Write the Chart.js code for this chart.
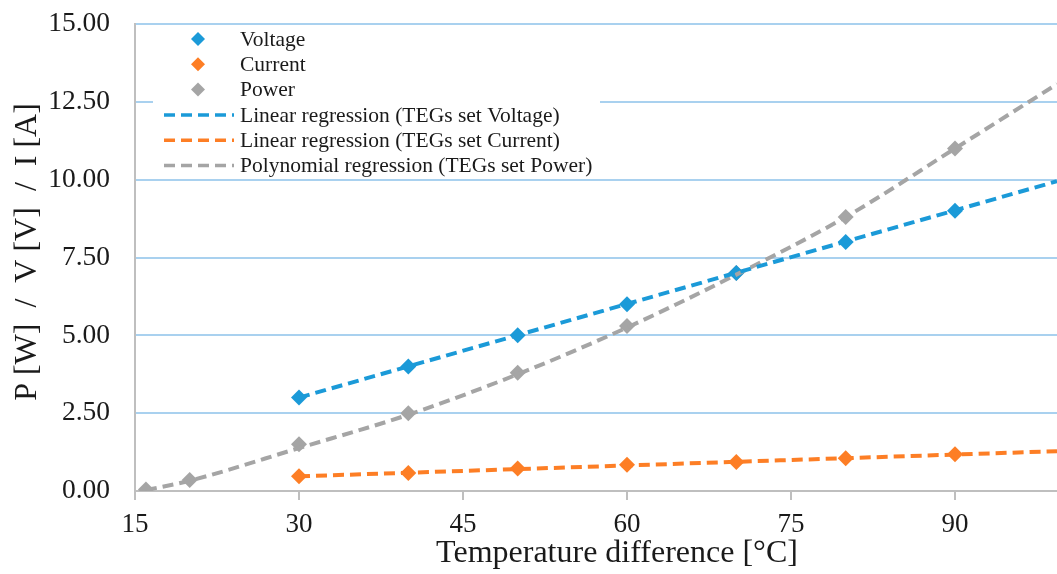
<!DOCTYPE html>
<html><head><meta charset="utf-8">
<script src="https://cdn.jsdelivr.net/npm/chart.js@4"></script>
<style>html,body{margin:0;padding:0;background:#fff;overflow:hidden}canvas{display:block}</style>
</head><body>
<canvas id="c" width="1057" height="574"></canvas>
<script>
const tempX = [30, 40, 50, 60, 70, 80, 90];
const voltage = [3.0, 4.0, 5.0, 6.0, 7.0, 8.0, 9.0];
const current = [0.47, 0.58, 0.72, 0.84, 0.93, 1.05, 1.18];
const powerX = [16, 20, 30, 40, 50, 60, 70, 80, 90];
const power = [0.05, 0.35, 1.5, 2.5, 3.8, 5.3, 7.0, 8.8, 11.0];
// regression curves
const vRegX = [30, 99.33];
const vRegY = [3.0, 9.95];
const iRegX = [30, 99.33];
const iRegY = [0.47, 1.28];
const pRegX = [16, 20, 30, 40, 50, 60, 70, 80, 90, 99.33];
const pRegY = [0.03, 0.33, 1.38, 2.45, 3.75, 5.25, 6.95, 8.8, 11.0, 13.07];
const xTicks = [15, 30, 45, 60, 75, 90];
const legendLabels = ['Voltage', 'Current', 'Power',
  'Linear regression (TEGs set Voltage)', 'Linear regression (TEGs set Current)',
  'Polynomial regression (TEGs set Power)'];
const xTitle = 'Temperature difference [°C]';
const yTitle = 'P [W]  /  V [V]  /  I [A]';

const BLUE = '#1b9ad8', ORANGE = '#fd7e25', GRAY = '#a5a5a5';
const pts = (xs, ys) => xs.map((x, i) => ({x, y: ys[i]}));
const SERIF = '"Liberation Serif", "Times New Roman", serif';

const regLine = (label, xs, ys, color) => ({
  label, data: pts(xs, ys), showLine: true, borderColor: color, borderWidth: 4,
  borderDash: [11, 6], pointRadius: 0, cubicInterpolationMode: 'monotone', fill: false
});
const marks = (label, xs, ys, color) => ({
  label, data: pts(xs, ys), showLine: false, pointStyle: 'rectRot', pointRadius: 8,
  backgroundColor: color, borderColor: color, borderWidth: 0
});

const customDraw = {
  id: 'customDraw',
  afterDraw(chart) {
    const ctx = chart.ctx;
    ctx.save();
    // legend
    ctx.fillStyle = '#fff';
    ctx.fillRect(153, 27, 447, 150);
    const colors = [BLUE, ORANGE, GRAY, BLUE, ORANGE, GRAY];
    ctx.font = '21.5px ' + SERIF;
    ctx.textBaseline = 'middle';
    ctx.textAlign = 'left';
    for (let i = 0; i < 6; i++) {
      const y = 39 + i * 25.3;
      ctx.fillStyle = colors[i];
      ctx.strokeStyle = colors[i];
      if (i < 3) {
        ctx.beginPath();
        ctx.moveTo(198, y - 7); ctx.lineTo(205, y); ctx.lineTo(198, y + 7); ctx.lineTo(191, y);
        ctx.closePath(); ctx.fill();
      } else {
        ctx.lineWidth = 3.5;
        ctx.setLineDash([11, 6]);
        ctx.beginPath(); ctx.moveTo(164, y); ctx.lineTo(234, y); ctx.stroke();
        ctx.setLineDash([]);
      }
      ctx.fillStyle = '#1a1a1a';
      ctx.fillText(legendLabels[i], 240, y + 1);
    }
    // axis titles
    ctx.fillStyle = '#1a1a1a';
    ctx.font = '32px ' + SERIF;
    ctx.textAlign = 'center';
    ctx.textBaseline = 'alphabetic';
    ctx.fillText(xTitle, 617, 562);
    ctx.textBaseline = 'middle';
    ctx.translate(28, 252);
    ctx.rotate(-Math.PI / 2);
    ctx.fillText(yTitle, 0, 0);
    ctx.restore();
  }
};

new Chart(document.getElementById('c'), {
  type: 'scatter',
  data: { datasets: [
    regLine(legendLabels[3], vRegX, vRegY, BLUE),
    regLine(legendLabels[4], iRegX, iRegY, ORANGE),
    regLine(legendLabels[5], pRegX, pRegY, GRAY),
    marks(legendLabels[0], tempX, voltage, BLUE),
    marks(legendLabels[1], tempX, current, ORANGE),
    marks(legendLabels[2], powerX, power, GRAY)
  ]},
  options: {
    responsive: false, animation: false,
    layout: { autoPadding: false, padding: { top: 24, right: 0, bottom: 0, left: 0 } },
    plugins: { legend: { display: false }, tooltip: { enabled: false } },
    scales: {
      x: {
        type: 'linear', min: 15, max: 99.33,
        afterBuildTicks(s) { s.ticks = xTicks.map(v => ({value: v})); },
        afterFit(s) { s.height = 83; s.paddingLeft = 0; s.paddingRight = 0; },
        ticks: { color: '#1a1a1a', font: { family: SERIF, size: 27 }, padding: 9, maxRotation: 0,
          callback: v => String(v) },
        grid: { drawOnChartArea: false, drawTicks: true, tickLength: 9, color: '#bfbfbf', lineWidth: 2 },
        border: { color: '#bfbfbf', width: 2 }
      },
      y: {
        min: 0, max: 15,
        afterFit(s) { s.width = 135; s.paddingTop = 0; s.paddingBottom = 0; },
        ticks: { stepSize: 2.5, color: '#1a1a1a', font: { family: SERIF, size: 27.5 }, padding: 25,
          callback: v => Number(v).toFixed(2) },
        grid: { color: '#a9d1ef', lineWidth: 2, drawTicks: false },
        border: { color: '#bfbfbf', width: 2 }
      }
    }
  },
  plugins: [customDraw]
});
</script>
</body></html>
